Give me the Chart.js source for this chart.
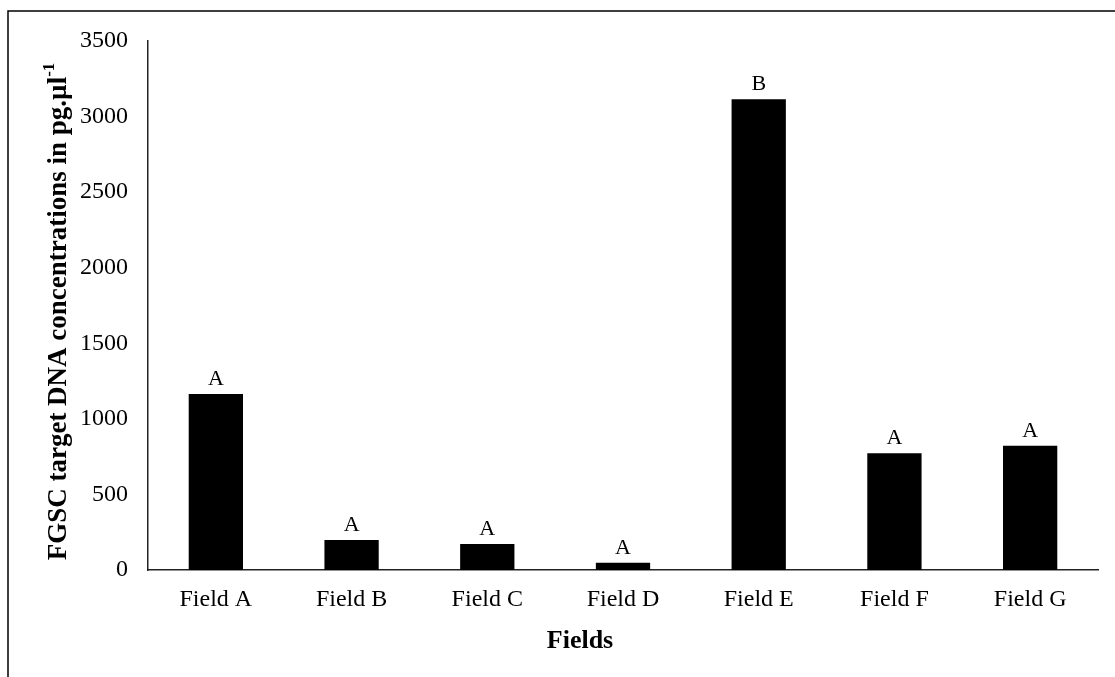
<!DOCTYPE html>
<html>
<head>
<meta charset="utf-8">
<script src="https://cdn.jsdelivr.net/npm/chart.js@4.4.0/dist/chart.umd.min.js"></script>
<style>
  html, body { margin: 0; padding: 0; background: #fff; }
  #wrap { width: 1115px; height: 677px; position: relative; }
</style>
</head>
<body>
<div id="wrap"><canvas id="c" width="1115" height="677"></canvas></div>
<script>
// Fields sampled and their FGSC target DNA concentrations (pg.µl-1)
const fields = ['Field A', 'Field B', 'Field C', 'Field D', 'Field E', 'Field F', 'Field G'];
const concentrations = [1164, 199, 172, 48, 3114, 772, 822];
// Significance groups shown above each bar
const groups = ['A', 'A', 'A', 'A', 'B', 'A', 'A'];
// Value axis range
const yMin = 0;
const yMax = 3500;
const yStep = 500;

const SERIF = '"Liberation Serif", "Times New Roman", Times, serif';

// Frame lines around the figure (left and top edges)
const framePlugin = {
  id: 'frame',
  afterDraw(chart) {
    const ctx = chart.ctx;
    ctx.save();
    ctx.strokeStyle = '#000';
    ctx.lineWidth = 1.5;
    ctx.beginPath();
    ctx.moveTo(8, 677);
    ctx.lineTo(8, 11);
    ctx.lineTo(1115, 11);
    ctx.stroke();
    ctx.restore();
  }
};

// Group letters above the bars
const groupLabelPlugin = {
  id: 'groupLabels',
  afterDatasetsDraw(chart) {
    const ctx = chart.ctx;
    const meta = chart.getDatasetMeta(0);
    ctx.save();
    ctx.fillStyle = '#000';
    ctx.font = '22px ' + SERIF;
    ctx.textAlign = 'center';
    ctx.textBaseline = 'alphabetic';
    meta.data.forEach((bar, i) => {
      ctx.fillText(groups[i], bar.x, bar.y - 9);
    });
    ctx.restore();
  }
};

// Axis titles (the y title carries a superscript unit exponent)
const axisTitlePlugin = {
  id: 'axisTitles',
  afterDraw(chart) {
    const ctx = chart.ctx;
    const area = chart.chartArea;
    ctx.save();
    ctx.fillStyle = '#000';

    // x title
    ctx.font = 'bold 26px ' + SERIF;
    ctx.textAlign = 'center';
    ctx.textBaseline = 'middle';
    ctx.fillText('Fields', 580, 641);

    // y title, rotated
    const main = 'FGSC target DNA concentrations in pg.µl';
    const sup = '-1';
    const mainFont = 'bold 27px ' + SERIF;
    const supFont = 'bold 17px ' + SERIF;
    ctx.font = mainFont;
    const wMain = ctx.measureText(main).width;
    ctx.font = supFont;
    const wSup = ctx.measureText(sup).width;
    const total = wMain + wSup;
    const cx = 57, cy = (area.top + area.bottom) / 2 + 6;
    ctx.translate(cx, cy);
    ctx.rotate(-Math.PI / 2);
    ctx.textAlign = 'left';
    ctx.textBaseline = 'alphabetic';
    ctx.font = mainFont;
    ctx.fillText(main, -total / 2, 9);
    ctx.font = supFont;
    ctx.fillText(sup, -total / 2 + wMain, -3);
    ctx.restore();
  }
};

new Chart(document.getElementById('c'), {
  type: 'bar',
  data: {
    labels: fields,
    datasets: [{
      data: concentrations,
      backgroundColor: '#000',
      borderWidth: 0,
      barPercentage: 0.4,
      categoryPercentage: 1.0
    }]
  },
  options: {
    responsive: false,
    animation: false,
    devicePixelRatio: 1,
    layout: { padding: { left: 0, top: 41, right: 17, bottom: 0 } },
    plugins: {
      legend: { display: false },
      tooltip: { enabled: false },
      title: { display: false }
    },
    scales: {
      x: {
        grid: { display: false, drawTicks: false },
        border: { display: true, color: '#222', width: 1.5 },
        ticks: {
          color: '#000',
          font: { family: SERIF, size: 24 },
          padding: 15,
          maxRotation: 0
        },
        afterFit(scale) { scale.height = 107; }
      },
      y: {
        min: yMin,
        max: yMax,
        grid: { display: false, drawTicks: false },
        border: { display: true, color: '#222', width: 1.5 },
        ticks: {
          stepSize: yStep,
          color: '#000',
          font: { family: SERIF, size: 24 },
          padding: 20,
          callback: (v) => String(v)
        },
        afterFit(scale) { scale.width = 148; }
      }
    }
  },
  plugins: [framePlugin, groupLabelPlugin, axisTitlePlugin]
});
</script>
</body>
</html>
